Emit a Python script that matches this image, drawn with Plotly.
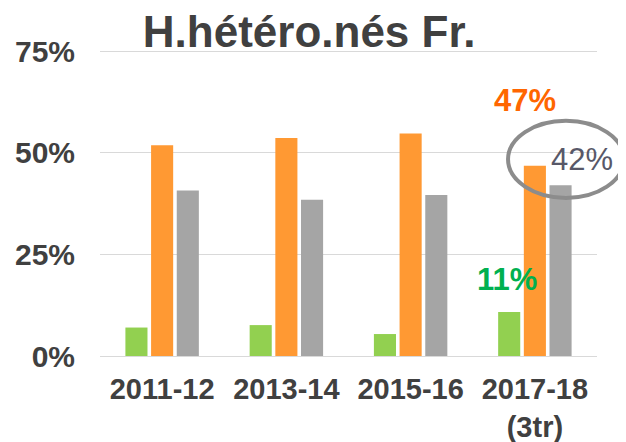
import plotly.graph_objects as go

categories = ["2011-12", "2013-14", "2015-16", "2017-18<br>(3tr)"]
green_vals = [7.0, 7.6, 5.4, 10.8]
orange_vals = [51.8, 53.6, 54.7, 46.8]
gray_vals = [40.7, 38.4, 39.6, 42.0]
y_ticks = [0, 25, 50, 75]
y_tick_text = ["0%", "25%", "50%", "75%"]

FONT = "Liberation Sans, Arial, sans-serif"
DARK = "#404040"

fig = go.Figure()
for vals, color in [(green_vals, "#92D050"), (orange_vals, "#FF9933"), (gray_vals, "#A5A5A5")]:
    fig.add_trace(go.Bar(x=categories, y=vals, marker=dict(color=color, line=dict(width=0)),
                         hoverinfo="skip", showlegend=False))

fig.update_layout(
    width=626, height=442,
    margin=dict(l=92, r=37, t=41, b=93.5, autoexpand=False),
    paper_bgcolor="white", plot_bgcolor="white",
    barmode="group", bargap=0.38, bargroupgap=0.14,
    title=dict(text="H.hétéro.nés Fr.", x=0.481, xanchor="center", y=0.946, yanchor="middle",
               xref="container", yref="container",
               font=dict(family=FONT, size=44, color=DARK, weight="bold")),
    xaxis=dict(type="category", showgrid=False, showline=False, zeroline=False, ticks="",
               automargin=False, ticklabelstandoff=13,
               tickfont=dict(family=FONT, size=29, color=DARK, weight="bold")),
    yaxis=dict(range=[0, 75.5], tickvals=y_ticks, ticktext=y_tick_text, automargin=False,
               showgrid=True, gridcolor="#D9D9D9", gridwidth=1,
               zeroline=True, zerolinecolor="#D9D9D9", zerolinewidth=1,
               showline=False, ticks="", ticklabelstandoff=24,
               tickfont=dict(family=FONT, size=30, color=DARK, weight="bold")),
)

ann = dict(xref="paper", yref="paper", showarrow=False, xanchor="center", yanchor="middle")
fig.add_annotation(text="47%", x=0.855, y=0.831, **ann,
                   font=dict(family=FONT, size=31, color="#FF6600", weight="bold"))
fig.add_annotation(text="42%", x=0.970, y=0.639, **ann,
                   font=dict(family=FONT, size=31, color="#585868", weight=500))
fig.add_annotation(text="11%", x=0.819, y=0.249, **ann,
                   font=dict(family=FONT, size=31, color="#00B050", weight="bold"))
fig.add_shape(type="circle", xref="paper", yref="paper", x0=0.821, x1=1.054, y0=0.515, y1=0.766,
              line=dict(color="#8C8C8C", width=4), layer="above")

fig.write_html("out.html")
